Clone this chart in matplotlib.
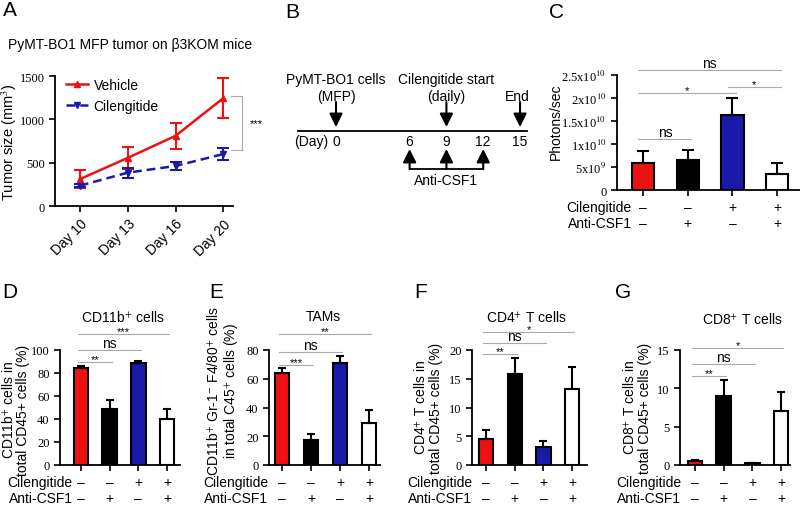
import numpy as np
import matplotlib
matplotlib.use('Agg')
import matplotlib.pyplot as plt
from matplotlib.lines import Line2D

W, H = 800, 506
SANS = 'Liberation Sans'
SERIF = 'Liberation Serif'
plt.rcParams['font.family'] = [SANS, 'DejaVu Sans']
plt.rcParams['mathtext.fontset'] = 'stix'

RED = '#ee1111'
BLUE = '#1a1aaa'
GREY = '#aaaaaa'

# ---- panel A data ----
days_a = ['Day 10', 'Day 13', 'Day 16', 'Day 20']
veh_mean = [310, 555, 810, 1245]
veh_err = [108, 130, 147, 230]
cil_mean = [234, 385, 462, 600]
cil_err = [18, 57, 46, 72]

# ---- panel B (timeline, days) ----
inject_day = 0
cil_start_day = 9
end_day = 15
day_ticks = [6, 9, 12, 15]
anti_days = [6, 9, 12]

# ---- bar panels ----
bar_colors = [RED, 'black', BLUE, 'white']
cil_signs = ['–', '–', '+', '+']
anti_signs = ['–', '+', '–', '+']

photons = [5.8e9, 6.6e9, 1.64e10, 3.4e9]
photons_err = [2.75e9, 2.1e9, 3.6e9, 2.5e9]

cd11b = [84.5, 49, 88.3, 40]
cd11b_err = [1.8, 7.8, 2.0, 8.5]

tams = [64, 17.6, 71, 29]
tams_err = [3.7, 4.2, 4.6, 9.5]

cd4 = [4.6, 15.9, 3.1, 13.2]
cd4_err = [1.5, 2.7, 1.0, 3.8]

cd8 = [0.5, 9.0, 0.25, 7.0]
cd8_err = [0.2, 2.1, 0.05, 2.5]

fig = plt.figure(figsize=(W / 100, H / 100), dpi=100)


def add_px(l, t, r, b):
    return fig.add_axes([l / W, 1 - b / H, (r - l) / W, (b - t) / H])


def ftext(x, y, s, **kw):
    return fig.text(x / W, 1 - y / H, s, **kw)


def style_axes(ax):
    for s in ['top', 'right']:
        ax.spines[s].set_visible(False)
    for s in ['left', 'bottom']:
        ax.spines[s].set_linewidth(1.3)
    ax.tick_params(width=1.2, length=4, direction='out')


# ================= Panel A =================
ax = add_px(55, 77, 233, 207)
x = np.arange(len(days_a))
ax.errorbar(x, veh_mean, yerr=veh_err, color=RED, lw=1.8, marker='^', ms=5,
            capsize=4, capthick=1.5, elinewidth=1.5, clip_on=False)
ax.errorbar(x, cil_mean, yerr=cil_err, color=BLUE, lw=1.8, ls=(0, (3.5, 2)), marker='v', ms=5,
            capsize=4, capthick=1.5, elinewidth=1.5, clip_on=False)
ax.set_xlim(-0.52, 3.2)
ax.set_ylim(0, 1500)
ax.set_yticks([0, 500, 1000, 1500])
ax.set_yticklabels(['0', '500', '1000', '1500'], fontfamily=SERIF, fontsize=9)
ax.set_xticks(x)
ax.set_xticklabels(days_a, rotation=45, ha='right', rotation_mode='anchor', fontsize=10)
style_axes(ax)
handles = [Line2D([], [], color=RED, lw=1.8, marker='^', ms=5),
           Line2D([], [], color=BLUE, lw=1.8, ls=(0, (3.5, 2)), marker='v', ms=5)]
ax.legend(handles, ['Vehicle', 'Cilengitide'], loc='upper left', bbox_to_anchor=(0.03, 1.03),
          frameon=False, fontsize=10, handlelength=1.6, handletextpad=0.4,
          borderaxespad=0, labelspacing=0.5)
ax.plot([3.15, 3.39, 3.39, 3.15], [1269, 1269, 646, 646], color=GREY, lw=0.8, clip_on=False)
ax.text(3.68, 958, '***', ha='center', va='center', fontsize=8)
ftext(9, 142, 'Tumor size (mm$^3$)', rotation=90, ha='center', va='center', fontsize=10.5)
ftext(8, 45, 'PyMT-BO1 MFP tumor on β3KOM mice', ha='left', va='center', fontsize=10)

# ================= Panel B =================
axb = add_px(290, 60, 535, 195)
axb.set_xlim(-3.75, 16.22)
axb.set_ylim(195, 60)
axb.axis('off')
axb.plot([-3.1, 15.6], [132, 132], color='black', lw=1.3)
arrow_kw = dict(arrowstyle='-|>,head_width=0.4,head_length=0.8', color='black', lw=1.5,
                shrinkA=0, shrinkB=0)
for d in [inject_day, cil_start_day, end_day]:
    axb.annotate('', xy=(d, 128), xytext=(d, 103), arrowprops=arrow_kw)
for d in anti_days:
    axb.annotate('', xy=(d, 150), xytext=(d, 170), arrowprops=arrow_kw)
axb.plot([anti_days[0], anti_days[-1]], [170, 170], color='black', lw=1.3)
axb.text(inject_day, 80, 'PyMT-BO1 cells', ha='center', va='center', fontsize=10)
axb.text(inject_day, 97, '(MFP)', ha='center', va='center', fontsize=10)
axb.text(cil_start_day, 80, 'Cilengitide start', ha='center', va='center', fontsize=10)
axb.text(cil_start_day, 97, '(daily)', ha='center', va='center', fontsize=10)
axb.text(end_day - 0.2, 97, 'End', ha='center', va='center', fontsize=10)
axb.text(inject_day, 142, '0', ha='center', va='center', fontsize=10)
axb.text(inject_day - 0.6, 142, '(Day)', ha='right', va='center', fontsize=10)
for d in day_ticks:
    axb.text(d, 142, str(d), ha='center', va='center', fontsize=10)
axb.text(np.mean(anti_days), 181, 'Anti-CSF1', ha='center', va='center', fontsize=10)


# ================= bar panels =================
def bar_panel(rect, xlim, vals, errs, ylim, yticks, yticklabels, sigs, cap, name_dx):
    ax = add_px(*rect)
    xb = np.arange(len(vals))
    ax.bar(xb, vals, width=0.5, color=bar_colors, edgecolor='black', linewidth=1.5, zorder=2)
    ax.errorbar(xb, vals, yerr=[np.zeros(len(vals)), errs], fmt='none', ecolor='black',
                elinewidth=1.5, capsize=cap, capthick=1.5, zorder=3, clip_on=False)
    ax.set_xlim(*xlim)
    ax.set_ylim(*ylim)
    ax.set_yticks(yticks)
    ax.set_yticklabels(yticklabels, fontfamily=SERIF, fontsize=9)
    ax.set_xticks(xb)
    ax.set_xticklabels([])
    style_axes(ax)
    for i, j, y, lab in sigs:
        ax.plot([i - 0.1, j + 0.08], [y, y], color=GREY, lw=0.8, clip_on=False)
        xm = (i - 0.1 + j + 0.08) / 2
        if lab == 'ns':
            ax.text(xm, y, lab, ha='center', va='bottom', fontsize=10)
        else:
            ax.text(xm, y, lab, ha='center', va='baseline', fontsize=8)
    rows = [('Cilengitide', cil_signs, -12.5), ('Anti-CSF1', anti_signs, -24)]
    for name, signs, off in rows:
        ax.annotate(name, xy=(0, 0), xycoords=('data', 'axes fraction'), xytext=(name_dx, off),
                    textcoords='offset points', ha='right', va='center', fontsize=10)
        for xi, s in zip(xb, signs):
            ax.annotate(s, xy=(xi, 0), xycoords=('data', 'axes fraction'), xytext=(0, off),
                        textcoords='offset points', ha='center', va='center', fontsize=10)
    return ax


# Panel C
bar_panel((617, 76, 800, 191), (-0.58, 3.51), photons, photons_err, (0, 2.5e10),
          [0, 5e9, 1e10, 1.5e10, 2e10, 2.5e10],
          ['0', '5x10$^{9}$', '1x10$^{10}$', '1.5x10$^{10}$', '2x10$^{10}$', '2.5x10$^{10}$'],
          [(0, 3, 26.1e9, 'ns'), (0, 2, 21.1e9, '*'), (2, 3, 22.4e9, '*'), (0, 1, 11.1e9, 'ns')],
          4.5, -8)
ftext(556, 122, 'Photons/sec', rotation=90, ha='center', va='center', fontsize=10)

# Panel D
bar_panel((60, 351, 180, 466), (-0.73, 3.45), cd11b, cd11b_err, (0, 100),
          [0, 20, 40, 60, 80, 100], ['0', '20', '40', '60', '80', '100'],
          [(0, 3, 114, '***'), (0, 2, 100, 'ns'), (0, 1, 89.3, '**')], 3, -6)
ftext(16, 410, 'CD11b$^{+}$ cells in\ntotal CD45+ cells (%)', rotation=90, ha='center',
      va='center', fontsize=10, linespacing=1.0)
ftext(123, 317, 'CD11b$^{+}$ cells', ha='center', va='center', fontsize=10)

# Panel E
bar_panel((269, 351, 380, 466), (-0.45, 3.38), tams, tams_err, (0, 80),
          [0, 20, 40, 60, 80], ['0', '20', '40', '60', '80'],
          [(0, 3, 91, '**'), (0, 2, 78.6, 'ns'), (0, 1, 69.6, '***')], 3, -10)
ftext(223, 391, 'CD11b$^{+}$ Gr-1$^{-}$ F4/80$^{+}$ cells\nin total C45$^{+}$ cells (%)',
      rotation=90, ha='center', va='center', fontsize=10, linespacing=1.0)
ftext(323, 317, 'TAMs', ha='center', va='center', fontsize=10)

# Panel F
bar_panel((472, 351, 587, 466), (-0.49, 3.52), cd4, cd4_err, (0, 20),
          [0, 5, 10, 15, 20], ['0', '5', '10', '15', '20'],
          [(0, 3, 23.1, '*'), (0, 2, 21.2, 'ns'), (0, 1, 19.3, '**')], 3, -10)
ftext(428, 408, 'CD4$^{+}$ T cells in\ntotal CD45+ cells (%)', rotation=90, ha='center',
      va='center', fontsize=10, linespacing=1.05)
ftext(526, 317, 'CD4$^{+}$ T cells', ha='center', va='center', fontsize=10)

# Panel G
bar_panel((680, 351, 790, 466), (-0.52, 3.31), cd8, cd8_err, (0, 15),
          [0, 5, 10, 15], ['0', '5', '10', '15'],
          [(0, 3, 15.3, '*'), (0, 2, 13.2, 'ns'), (0, 1, 11.6, '**')], 3, -10)
ftext(637, 408, 'CD8$^{+}$ T cells in\ntotal CD45+ cells (%)', rotation=90, ha='center',
      va='center', fontsize=10, linespacing=1.05)
ftext(742, 320, 'CD8$^{+}$ T cells', ha='center', va='center', fontsize=10)

# panel letters
for lab, px, py in [('A', 10, 11), ('B', 292, 12), ('C', 556, 12), ('D', 10, 292),
                    ('E', 216, 292), ('F', 421, 292), ('G', 623, 292)]:
    ftext(px, py, lab, ha='center', va='center', fontsize=15)

fig.savefig('out.png', dpi=100)
